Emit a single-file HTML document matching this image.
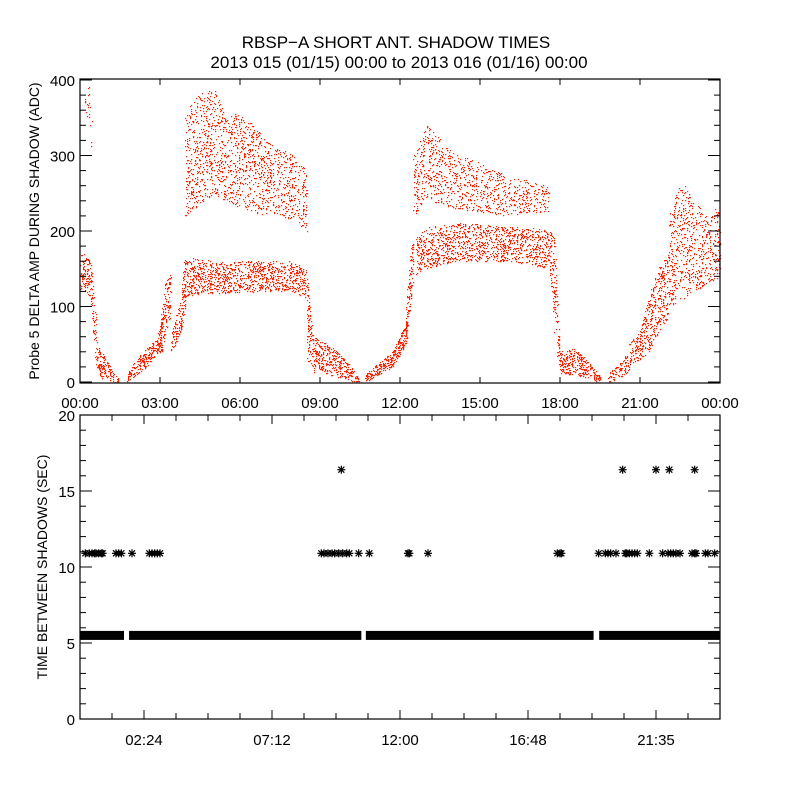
<!DOCTYPE html>
<html><head><meta charset="utf-8">
<style>
html,body{margin:0;padding:0;background:#fff;}
svg{display:block;font-family:"Liberation Sans",sans-serif;}
</style></head>
<body>
<svg id="chart" width="800" height="800" viewBox="0 0 800 800" xmlns="http://www.w3.org/2000/svg">
<rect width="800" height="800" fill="#fff"/>
<text x="396" y="48" font-size="17" text-anchor="middle">RBSP−A SHORT ANT. SHADOW TIMES</text>
<text x="399" y="68" font-size="17" text-anchor="middle">2013 015 (01/15) 00:00 to 2013 016 (01/16) 00:00</text>
<g id="topPanel"></g>
<g id="botPanel"></g>
<text transform="translate(39,231) rotate(-90)" font-size="14" text-anchor="middle">Probe 5 DELTA AMP DURING SHADOW (ADC)</text>
<text transform="translate(47,567) rotate(-90)" font-size="14" text-anchor="middle">TIME BETWEEN SHADOWS (SEC)</text>
</svg>
<script>
// ---- Top panel data: amplitude bands (hours, low ADC, high ADC, coverage)
const bandTimes = [
 [0.0,0.2,0.4,0.6],
 [0.15,0.3,0.45],
 [0.6,0.8,1.0,1.2,1.45],
 [1.75,2.1,2.5,2.9,3.1],
 [3.0,3.2,3.4],
 [3.4,3.6,3.8,3.95],
 [3.95,4.3,5.0,5.5,6.0,7.0,8.0,8.5],
 [3.9,4.3,5.0,6.0,7.0,8.0,8.5],
 [8.5,8.65,8.8],
 [8.8,9.3,9.8,10.2,10.45],
 [10.7,11.2,11.7,12.1,12.3],
 [12.2,12.35,12.5],
 [12.5,13.0,14.0,15.0,16.0,17.0,17.6],
 [12.6,13.0,14.0,15.0,16.0,17.0,17.6],
 [17.6,17.8,18.0],
 [18.0,18.5,19.0,19.5],
 [19.8,20.2,20.6],
 [20.6,21.0,21.3],
 [21.3,21.7,22.1],
 [22.1,22.6,23.0,23.5,24.0]
];
const bandLow = [
 [120,120,110,20],[330,360,300],[20,5,5,0,0],[0,10,20,40,40],[40,60,90],[40,50,70,100],
 [220,230,250,240,230,220,215,200],[110,115,118,118,120,120,110],[30,20,10],
 [20,10,5,0,0],[0,10,20,40,60],[60,90,140],
 [220,240,230,225,220,225,225],[140,150,160,160,160,155,150],[150,60,10],
 [10,10,5,0],[0,5,15],[20,30,40],[40,60,90],[100,110,120,130,140]
];
const bandHigh = [
 [170,170,160,90],[400,400,380],[60,40,30,15,5],[10,30,45,60,90],[80,130,150],[60,90,110,190],
 [350,380,390,350,360,320,300,280],[160,165,160,160,160,160,150],[150,90,40],
 [60,50,35,20,5],[10,25,40,70,80],[90,160,200],
 [300,340,305,290,275,265,260],[195,205,210,210,205,205,200],[200,200,40],
 [40,45,30,10],[10,25,40],[50,70,110],[110,150,180],[230,270,240,220,240]
];
const bandCover = [0.25,0.06,0.35,0.4,0.25,0.3,0.13,0.25,0.25,0.32,0.5,0.3,0.13,0.22,0.2,0.35,0.28,0.25,0.2,0.13];

// ---- Bottom panel data
const barSegStart = [0.0, 1.84, 10.72, 19.47];
const barSegEnd   = [1.65, 10.55, 19.26, 24.0];
const barValue = 5.5;
const star11Times = [0.2,0.35,0.45,0.55,0.6,0.7,0.8,0.85,1.35,1.45,1.55,1.95,2.6,2.7,2.8,2.9,3.0,
 9.05,9.15,9.3,9.45,9.55,9.7,9.85,10.0,10.1,10.45,10.85,12.3,12.35,13.05,
 17.9,18.0,18.05,19.45,19.7,19.8,19.9,20.1,20.45,20.5,20.6,20.7,20.8,20.9,21.35,21.85,22.05,22.15,22.25,22.35,22.5,22.95,23.05,23.1,23.45,23.55,23.8];
const star11Value = 10.9;
const star16Times = [9.8, 20.35, 21.6, 22.1, 23.05];
const star16Value = 16.4;
const botXLabels=['02:24','07:12','12:00','16:48','21:35'];
const botXLabelHours=[2.4,7.2,12.0,16.8,21.6];

const NS="http://www.w3.org/2000/svg";
function mk(tag, attrs, parent){const e=document.createElementNS(NS,tag);for(const k in attrs)e.setAttribute(k,attrs[k]);parent.appendChild(e);return e;}
const topG=document.getElementById('topPanel'), botG=document.getElementById('botPanel');
const X0=80,X1=720;
const xT=t=>X0+t/24*(X1-X0);
const yT=v=>382-v*0.755;
const yB=v=>719-v*15.2;

// low-discrepancy fill within band envelopes
let kk=0;
function hashf(n){const s=Math.sin(n*12.9898+78.233)*43758.5453;return s-Math.floor(s);}
const dots=mk('g',{fill:'#ff2200'},topG);


for(let b=0;b<bandTimes.length;b++){
 const ts=bandTimes[b],lo=bandLow[b],hi=bandHigh[b],cov=bandCover[b];
 for(let i=0;i<ts.length-1;i++){
  const x1=xT(ts[i]),x2=xT(ts[i+1]);
  const avgH=((hi[i]-lo[i])+(hi[i+1]-lo[i+1]))/2*0.755;
  const n=Math.round(Math.max(1,(x2-x1)*Math.max(avgH,3)*cov));
  for(let k=0;k<n;k++){
   kk++;
   const f=hashf(kk), g=hashf(kk+100000.5);
   const l=lo[i]+(lo[i+1]-lo[i])*f, h=hi[i]+(hi[i+1]-hi[i])*f;
   const x=x1+(x2-x1)*f, v=l+(h-l)*g;
   const y=yT(v);
   if(y<80||y>382)continue;
   mk('rect',{x:Math.round(x),y:Math.round(y),width:1.2,height:1.2},dots);
  }
 }
}

function frame(g,yTop,yBot,name){
 const r=mk('rect',{x:X0,y:yTop,width:X1-X0,height:yBot-yTop,fill:'none',stroke:'#000','stroke-width':1.2},g);
 
 
}
frame(topG,79,383,'top-plot-frame');
frame(botG,415,719,'bottom-plot-frame');

const topXLabels=['00:00','03:00','06:00','09:00','12:00','15:00','18:00','21:00','00:00'];
topXLabels.forEach((s,i)=>{
 const x=xT(i*3);
 mk('line',{x1:x,x2:x,y1:79,y2:85,stroke:'#000'},topG);
 mk('line',{x1:x,x2:x,y1:383,y2:377,stroke:'#000'},topG);
 const t=mk('text',{x:x,y:408,'font-size':15,'text-anchor':'middle'},topG);
 t.textContent=s;
 
 
});
for(let v=0;v<=400;v+=20){
 const y=yT(v), L=(v%100===0)?12:6;
 mk('line',{x1:X0,x2:X0+L,y1:y,y2:y,stroke:'#000'},topG);
 mk('line',{x1:X1,x2:X1-L,y1:y,y2:y,stroke:'#000'},topG);
 if(v%100===0){
  const t=mk('text',{x:75,y:y+6,'font-size':15,'text-anchor':'end'},topG);
  t.textContent=String(v);
  
  
 }
}

for(let k=0;k<=20;k++){
 const x=X0+k*(X1-X0)/20, L=(k%4===2)?9:6;
 mk('line',{x1:x,x2:x,y1:415,y2:415+L,stroke:'#000'},botG);
 mk('line',{x1:x,x2:x,y1:719,y2:719-L,stroke:'#000'},botG);
}
botXLabels.forEach((s,i)=>{
 const x=xT(botXLabelHours[i]);
 const t=mk('text',{x:x,y:745,'font-size':15,'text-anchor':'middle'},botG);
 t.textContent=s;
 
 
});
for(let v=0;v<=20;v++){
 const y=yB(v), L=(v%5===0)?12:6;
 mk('line',{x1:X0,x2:X0+L,y1:y,y2:y,stroke:'#000'},botG);
 mk('line',{x1:X1,x2:X1-L,y1:y,y2:y,stroke:'#000'},botG);
 if(v%5===0){
  const t=mk('text',{x:75,y:y+6,'font-size':15,'text-anchor':'end'},botG);
  t.textContent=String(v);
  
  
 }
}

barSegStart.forEach((s,i)=>{
 const x1=xT(s),x2=xT(barSegEnd[i]);
 const r=mk('rect',{x:x1,y:yB(barValue)-4.5,width:x2-x1,height:9,fill:'#000'},botG);
 
 
});
function star(x,y,name){
 const g=mk('g',{stroke:'#000','stroke-width':1.2},botG);
 
 
 mk('line',{x1:x-4,x2:x+4,y1:y,y2:y},g);
 mk('line',{x1:x,x2:x,y1:y-4,y2:y+4},g);
 mk('line',{x1:x-3,x2:x+3,y1:y-3,y2:y+3},g);
 mk('line',{x1:x-3,x2:x+3,y1:y+3,y2:y-3},g);
}
star11Times.forEach(t=>star(xT(t),yB(star11Value),'star-11s'));
star16Times.forEach(t=>star(xT(t),yB(star16Value),'star-16s'));
</script>
</body></html>
